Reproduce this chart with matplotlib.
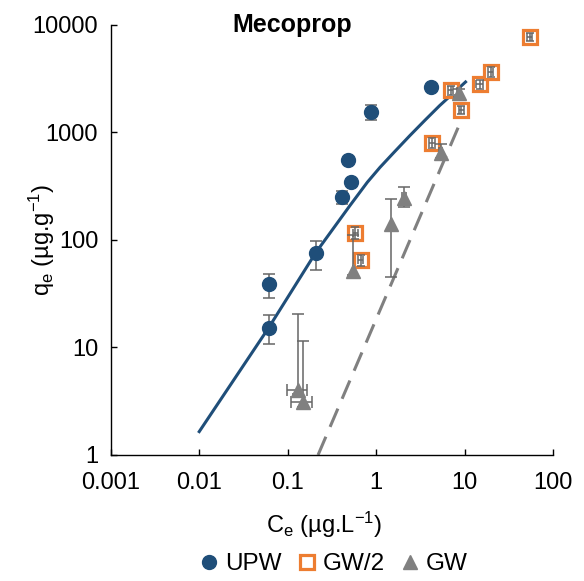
import numpy as np
import matplotlib.pyplot as plt
from matplotlib.lines import Line2D

plt.rcParams['font.family'] = ['Liberation Sans', 'DejaVu Sans']
plt.rcParams['mathtext.fontset'] = 'custom'
plt.rcParams['mathtext.rm'] = 'Liberation Sans'
plt.rcParams['mathtext.it'] = 'Liberation Sans'

# data
upw_c = [0.061, 0.061, 0.206, 0.405, 0.515, 0.476, 0.88, 4.2]
upw_q = [38.7, 15.3, 75.7, 253, 346, 555, 1561, 2667]
upw_err = [9.7, 4.6, 23, 35, 0, 0, 250, 0]

gw2_c = [0.582, 0.664, 4.27, 6.93, 9.16, 14.7, 19.6, 54]
gw2_q = [117, 65, 804, 2485, 1620, 2808, 3680, 7785]
gw2_xerr = [0.04, 0.04, 0.3, 0.5, 0.6, 1.2, 1.5, 4]
gw2_yerr = [15, 8, 80, 250, 150, 250, 400, 700]

gw_c = [0.131, 0.149, 0.54, 1.48, 2.04, 5.35, 8.6]
gw_q = [4.0, 3.1, 52, 141, 247, 640, 2345]
gw_yerr_lo = [0.3, 0.3, 5, 96, 43, 60, 200]
gw_yerr_hi = [16.5, 8.5, 60, 100, 66, 140, 200]
gw_xerr = [0.034, 0.041, 0, 0, 0.1, 0.2, 0.5]

# fitted isotherm (blue) and dashed model line (grey)
fit_c = [0.01, 0.061, 0.206, 0.502, 0.794, 1.1, 1.585, 2.39, 3.55, 5.21, 10.2]
fit_q = [1.65, 15.3, 75.7, 208, 345, 473, 653, 933, 1300, 1780, 2950]
dash_c = [0.22, 10]
dash_q = [1, 1550]

blue = '#1F4E79'
orange = '#ED7D31'
grey = '#808080'
errc = '#666666'

fig = plt.figure(figsize=(5.84, 5.81), dpi=100)
ax = fig.add_axes([0.1896, 0.2169, 0.9474 - 0.1896, 0.957 - 0.2169])

ax.plot(fit_c, fit_q, color=blue, lw=2.2, zorder=2)
ax.plot(dash_c, dash_q, color=grey, lw=2.2, dashes=(6.5, 3.5), zorder=2)

ax.errorbar(upw_c, upw_q, yerr=upw_err, fmt='none', ecolor=errc,
            elinewidth=1.1, capsize=4, capthick=1.1, zorder=3)
ax.plot(upw_c, upw_q, 'o', color=blue, ms=10, zorder=4)

ax.plot(gw2_c, gw2_q, 's', mfc='white', mec=orange, mew=2.3, ms=10, zorder=4)
ax.errorbar(gw2_c, gw2_q, xerr=gw2_xerr, yerr=gw2_yerr, fmt='none', ecolor=errc,
            elinewidth=1.1, capsize=3, capthick=1.1, zorder=5)

ax.errorbar(gw_c, gw_q, xerr=gw_xerr, yerr=[gw_yerr_lo, gw_yerr_hi], fmt='none',
            ecolor=errc, elinewidth=1.1, capsize=4, capthick=1.1, zorder=5)
ax.plot(gw_c, gw_q, '^', color=grey, ms=9.5, zorder=6)

ax.set_xscale('log')
ax.set_yscale('log')
ax.set_xlim(0.001, 100)
ax.set_ylim(1, 10000)
ax.set_xticks([0.001, 0.01, 0.1, 1, 10, 100])
ax.set_xticklabels(['0.001', '0.01', '0.1', '1', '10', '100'])
ax.set_yticks([1, 10, 100, 1000, 10000])
ax.set_yticklabels(['1', '10', '100', '1000', '10000'])
ax.minorticks_off()
ax.tick_params(direction='in', length=4.5, width=1, labelsize=17)
ax.tick_params(axis='x', pad=12)
ax.tick_params(axis='y', pad=9)
for s in ['top', 'right']:
    ax.spines[s].set_visible(False)
for s in ['left', 'bottom']:
    ax.spines[s].set_linewidth(1)

ax.set_xlabel('C$_{\\mathregular{e}}$ (µg.L$^{\\mathregular{-1}}$)', fontsize=17)
ax.set_ylabel('q$_{\\mathregular{e}}$ (µg.g$^{\\mathregular{-1}}$)', fontsize=17)
ax.xaxis.set_label_coords(0.482, -0.128)
ax.yaxis.set_label_coords(-0.122, 0.5)

fig.text(292.5 / 584, 1 - 25 / 581, 'Mecoprop', fontsize=18, fontweight='bold',
         ha='center', va='center')

handles = [
    Line2D([], [], ls='none', marker='o', color=blue, ms=10),
    Line2D([], [], ls='none', marker='s', mfc='white', mec=orange, mew=2.3, ms=10),
    Line2D([], [], ls='none', marker='^', color=grey, ms=9.5),
]
fig.legend(handles, ['UPW', 'GW/2', 'GW'], loc='center', ncol=3, frameon=False,
           fontsize=17.5, bbox_to_anchor=(0.57, 1 - 564 / 581),
           handletextpad=0.2, columnspacing=0.6, handlelength=0.9)

fig.savefig('out.png', dpi=100)
